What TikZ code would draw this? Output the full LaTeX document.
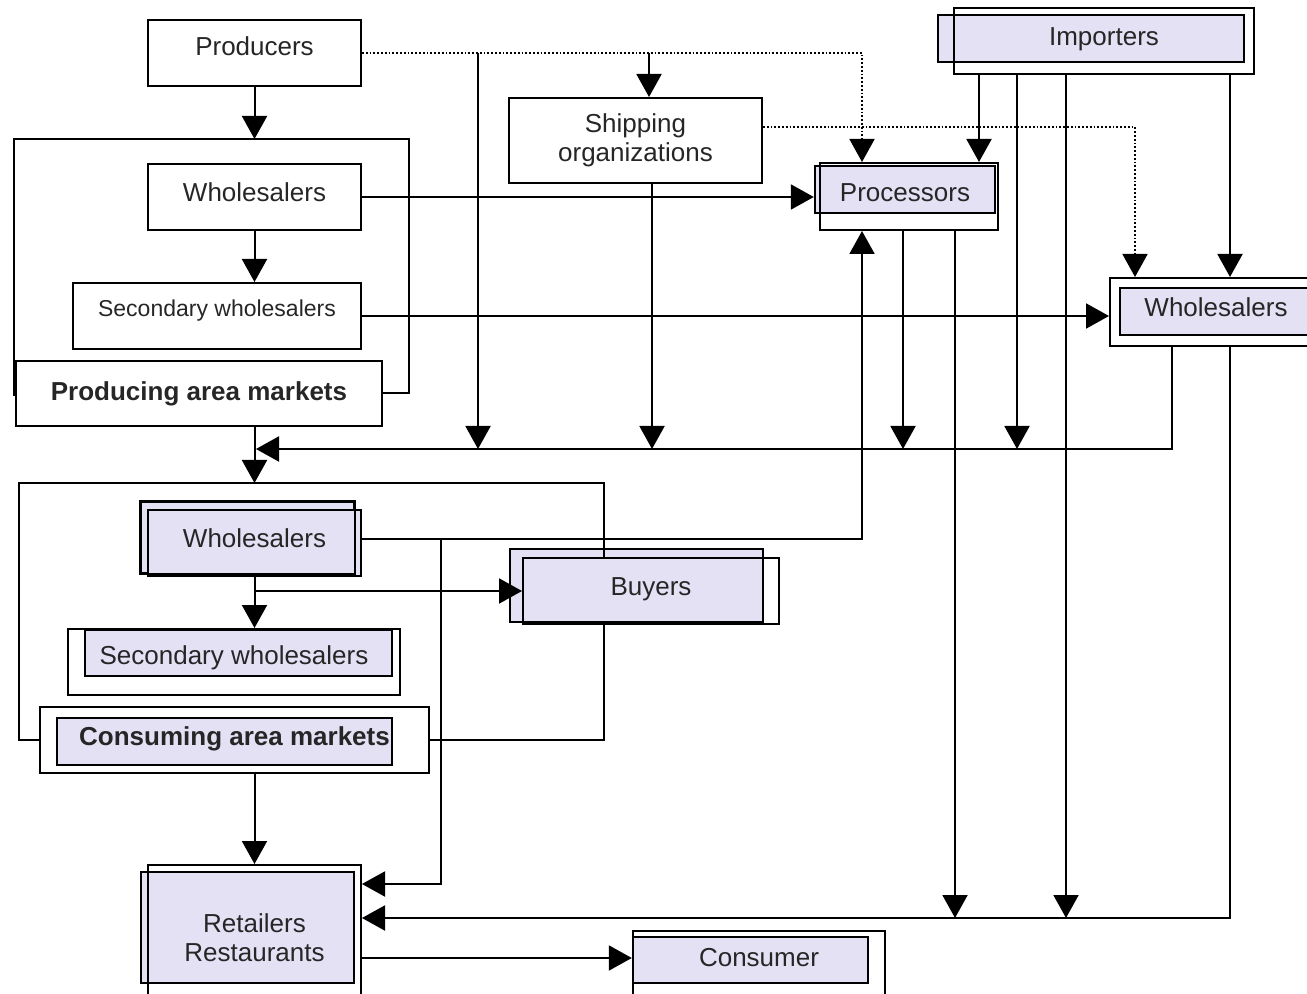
\documentclass[tikz,border=0pt]{standalone}
\usepackage{fontspec}
\setmainfont{Liberation Sans}
\usetikzlibrary{arrows.meta}
\definecolor{boxfill}{RGB}{228,225,245}
\newcommand{\boxfont}{\fontsize{13}{14.5}\selectfont}
\newcommand{\smallboxfont}{\fontsize{11.5}{13}\selectfont}
\tikzset{
  box/.style={draw, line width=1pt, inner sep=0pt, align=center, font=\boxfont, text=black!85},
  fillbox/.style={box, fill=boxfill, line width=1.2pt},
  wire/.style={line width=1pt},
  flow/.style={line width=1pt, -{Triangle[length=11.5pt,width=12.5pt]}},
  dotflow/.style={flow, line width=0.9pt, densely dotted},
}

\begin{document}
\begin{tikzpicture}[x=0.5pt,y=-0.5pt]
\useasboundingbox (0,0) rectangle (1307,994);

% producing side
\node[box, minimum width=106.5pt, minimum height=33pt, text depth=7pt] (prod) at (254.5,53) {Producers};
\node[box, minimum width=106.5pt, minimum height=33pt, text depth=5pt] (whA) at (254.5,197) {Wholesalers};
\node[box, minimum width=144pt, minimum height=33pt, text depth=8pt, font=\smallboxfont] (swA) at (217,316) {Secondary wholesalers};
\node[box, minimum width=183pt, minimum height=32.5pt, font=\boxfont\bfseries] (pam) at (199,393.5) {Producing area markets};
\node[box, minimum width=126.5pt, minimum height=42.5pt] (ship) at (635.5,140.5) {Shipping\\organizations};

% importers, processors, wholesalers
\node[fillbox, minimum width=153pt, minimum height=23.5pt] (impF) at (1091,38.5) {};
\node[box, minimum width=150pt, minimum height=33pt, text depth=4pt] (impO) at (1104,41) {Importers};
\node[fillbox, minimum width=90pt, minimum height=23.5pt, text height=12pt] (procF) at (905,189.5) {Processors};
\node[box, minimum width=89pt, minimum height=33.5pt] (procO) at (909,196.5) {};
\node[box, minimum width=107.5pt, minimum height=34pt] (whRo) at (1217.5,312) {};
\node[fillbox, minimum width=96pt, minimum height=23.5pt, text depth=4.5pt] (whRf) at (1216,311.5) {Wholesalers};

% consuming side
\node[fillbox, line width=1pt, minimum width=106.5pt, minimum height=35.5pt] (whB1) at (247.5,537.5) {};
\node[fillbox, minimum width=106.5pt, minimum height=33pt, text depth=5pt] (whB2) at (254.5,543) {Wholesalers};
\draw[line width=1pt] (whB1.north west) rectangle (whB1.south east);
\node[box, minimum width=166pt, minimum height=33pt] (swBo) at (234,662) {};
\node[fillbox, minimum width=153.5pt, minimum height=23pt] (swBf) at (238.5,653) {};
\node[box, draw=none, text depth=7pt] at (swBo) {Secondary wholesalers};
\node[box, minimum width=194.5pt, minimum height=33pt] (camO) at (234.5,740) {};
\node[fillbox, minimum width=167.5pt, minimum height=23.5pt] (camF) at (224.5,741.5) {};
\node[box, draw=none, text depth=4pt, font=\boxfont\bfseries] at (camO) {Consuming area markets};
\node[fillbox, minimum width=126.5pt, minimum height=36.5pt] (buy1) at (636.5,585.5) {};
\node[box, minimum width=128pt, minimum height=33pt, text depth=4pt] (buy2) at (651,591) {Buyers};
\node[fillbox, minimum width=106.5pt, minimum height=55.5pt] (retF) at (247.5,927.5) {};
\node[box, minimum width=106.5pt, minimum height=72.5pt] (retO) at (254.5,937.5) {Retailers\\Restaurants};
\node[fillbox, minimum width=117.5pt, minimum height=23pt] (conF) at (750.5,960) {};
\node[box, minimum width=126pt, minimum height=39.5pt, text depth=13.5pt] (conO) at (759,970.5) {Consumer};

% frames
\coordinate (pfNW) at (14,139);
\coordinate (pfNE) at (409,139);
\draw[wire] (14,396) -- (pfNW) -- (pfNE) |- (pam.east);
\coordinate (cfNW) at (19,483);
\coordinate (cfNE) at (604,483);
\draw[wire] (camO.west) -| (cfNW) -- (cfNE) -- (buy2.north -| cfNE);
\draw[wire] (buy2.south -| cfNE) |- (camO.east);

% columns and bus ends
\coordinate (colS) at (649,53);
\coordinate (colQ) at (862,100);
\coordinate (colP) at (979,100);
\coordinate (colW) at (1135,127);
\coordinate (dA) at (478,449);
\coordinate (dB) at (652,449);
\coordinate (dC) at (903,449);
\coordinate (dD) at (1017,449);
\coordinate (busW) at (256,449);
\coordinate (busE) at (1172,449);
\coordinate (eA) at (955,918);
\coordinate (eB) at (1066,918);
\coordinate (bus2E) at (1230,918);
\coordinate (jB) at (441,539);

% producing flows
\draw[flow] (prod.south) -- (pfNW -| prod.south);
\draw[flow] (whA.south) -- (whA.south |- swA.north);
\draw[flow] (whA.east) -- (whA.east -| procF.west);
\draw[flow] (swA.east) -- (swA.east -| whRo.west);
\draw[dotflow] (prod.east) -| (procO.north -| colQ);
\draw[dotflow] (ship.east |- colW) -- (colW) -- (whRo.north -| colW);
\draw[flow] (prod.east -| colS) -- (ship.north -| colS);
\draw[flow] (prod.east -| dA) -- (dA);
\draw[flow] (ship.south -| dB) -- (dB);

% importers and processors
\draw[flow] (impO.south -| colP) -- (procO.north -| colP);
\draw[flow] (impO.south -| dD) -- (dD);
\draw[flow] (impO.south -| eB) -- (eB);
\draw[flow] (impO.south -| bus2E) -- (whRo.north -| bus2E);
\draw[flow] (procO.south -| dC) -- (dC);
\draw[flow] (procO.south -| eA) -- (eA);
\draw[flow] (whRo.south -| busE) -- (busE) -- (busW);
\draw[flow] (whRo.south -| bus2E) -- (bus2E) -- (retO.east |- bus2E);

% consuming flows
\draw[flow] (pam.south -| whB2.south) -- (cfNW -| whB2.south);
\draw[flow] ([yshift=2pt]whB2.east) -| (procO.south -| colQ);
\draw[flow] (jB) |- ([yshift=26.75pt]retO.east);
\draw[flow] (whB2.south) -- (whB2.south |- swBo.north);
\draw[flow] (buy2.west -| whB2.south) -- (buy2.west);
\draw[flow] (camO.south -| retO.north) -- (retO.north);
\draw[flow] ([yshift=-10.25pt]retO.east) -- ([yshift=1pt]conF.west);
\end{tikzpicture}
\end{document}
